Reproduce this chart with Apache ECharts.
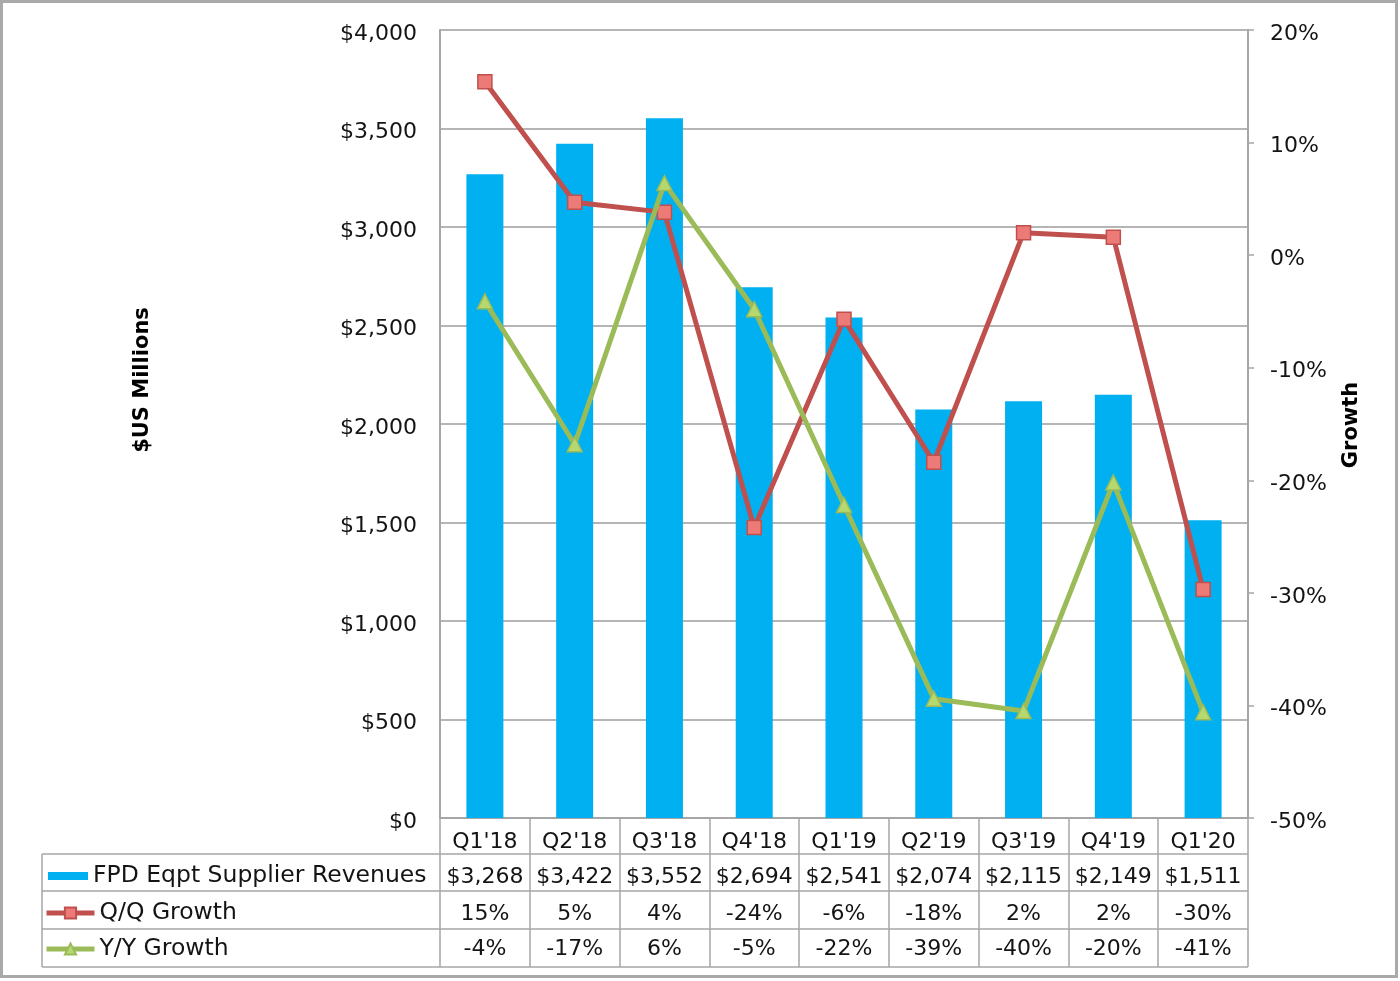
<!DOCTYPE html>
<html>
<head>
<meta charset="utf-8">
<script src="https://cdn.jsdelivr.net/npm/echarts@6/dist/echarts.min.js"></script>
<style>
html,body{margin:0;padding:0;background:#fff;}
#chart{width:1400px;height:981px;}
</style>
</head>
<body>
<div id="chart"></div>
<script>
// ---- data ----
const categories = ["Q1'18", "Q2'18", "Q3'18", "Q4'18", "Q1'19", "Q2'19", "Q3'19", "Q4'19", "Q1'20"];
const revenues = [3268, 3422, 3552, 2694, 2541, 2074, 2115, 2149, 1511];
const qqGrowth = [15.4, 4.7, 3.8, -24.2, -5.7, -18.4, 2.0, 1.6, -29.7];
const yyGrowth = [-4.1, -16.8, 6.4, -4.8, -22.2, -39.4, -40.5, -20.2, -40.6];
const revenueLabels = ['$3,268', '$3,422', '$3,552', '$2,694', '$2,541', '$2,074', '$2,115', '$2,149', '$1,511'];
const qqLabels = ['15%', '5%', '4%', '-24%', '-6%', '-18%', '2%', '2%', '-30%'];
const yyLabels = ['-4%', '-17%', '6%', '-5%', '-22%', '-39%', '-40%', '-20%', '-41%'];
const seriesNames = ['FPD Eqpt Supplier Revenues', 'Q/Q Growth', 'Y/Y Growth'];

// ---- layout ----
const FONT = 'DejaVu Sans';
const GRID = {left: 440, top: 30, width: 808, height: 788};
const TABLE_LEFT = 42;
const ROW_LINES = [854, 891, 929, 967];
const GRAY = '#A6A6A6';
const txt = {fontFamily: FONT, fontSize: 22, lineHeight: 22, color: '#141414'};
const shiftedRich = {t: {fontFamily: FONT, fontSize: 22, lineHeight: 22, color: '#141414', padding: [8, 0, 0, 0]}};

const chart = echarts.init(document.getElementById('chart'), null, {renderer: 'canvas'});

function rowAxis(offset, labels) {
  return {
    type: 'category', data: categories, position: 'bottom', offset: offset,
    axisLine: {show: false}, axisTick: {show: false}, splitLine: {show: false},
    axisLabel: Object.assign({interval: 0, margin: 11, formatter: (v, i) => labels[i]}, txt)
  };
}

const graphics = [
  {type: 'rect', shape: {x: 1.5, y: 1.5, width: 1395, height: 975}, style: {fill: 'none', stroke: '#A9A9A9', lineWidth: 3}, silent: true, z: -10},
  {type: 'line', shape: {x1: TABLE_LEFT, y1: ROW_LINES[0], x2: TABLE_LEFT, y2: ROW_LINES[3]}, style: {stroke: GRAY, lineWidth: 1.5}, silent: true},
  {type: 'text', x: 143, y: 380, rotation: Math.PI / 2,
    style: {text: '$US Millions', fontFamily: FONT, fontSize: 21, fontWeight: 'bold', fill: '#000', align: 'center', verticalAlign: 'middle'}},
  {type: 'text', x: 1352, y: 425, rotation: Math.PI / 2,
    style: {text: 'Growth', fontFamily: FONT, fontSize: 21, fontWeight: 'bold', fill: '#000', align: 'center', verticalAlign: 'middle'}}
];
ROW_LINES.forEach(y => graphics.push({
  type: 'line', shape: {x1: TABLE_LEFT, y1: y, x2: GRID.left + GRID.width, y2: y},
  style: {stroke: GRAY, lineWidth: 1.5}, silent: true
}));

const legendBase = {
  orient: 'vertical', selectedMode: false, padding: 0,
  textStyle: Object.assign({}, txt, {fontSize: 23.5, lineHeight: 24})
};

const option = {
  animation: false,
  backgroundColor: '#fff',
  grid: {left: GRID.left, top: GRID.top, width: GRID.width, height: GRID.height, containLabel: false},
  legend: [
    Object.assign({}, legendBase, {data: [{name: seriesNames[0], icon: 'rect'}], left: 48, top: 864, itemWidth: 40, itemHeight: 8}),
    Object.assign({}, legendBase, {data: [seriesNames[1]], left: 44, top: 901, itemWidth: 48, itemHeight: 14, lineStyle: {width: 5}}),
    Object.assign({}, legendBase, {data: [seriesNames[2]], left: 44, top: 937, itemWidth: 48, itemHeight: 14, lineStyle: {width: 5}})
  ],
  xAxis: [
    {
      type: 'category', data: categories, position: 'bottom',
      axisLine: {lineStyle: {color: GRAY, width: 2}},
      axisTick: {show: true, interval: 0, length: ROW_LINES[3] - (GRID.top + GRID.height), lineStyle: {color: GRAY, width: 1.5}},
      splitLine: {show: false},
      axisLabel: Object.assign({interval: 0, margin: 13}, txt)
    },
    rowAxis(37, revenueLabels),
    rowAxis(74, qqLabels),
    rowAxis(109, yyLabels)
  ],
  yAxis: [
    {
      type: 'value', min: 0, max: 4000, interval: 500,
      axisLine: {show: true, lineStyle: {color: GRAY, width: 2}},
      axisTick: {show: false},
      splitLine: {show: true, lineStyle: {color: '#B5B5B5', width: 2}},
      axisLabel: {margin: 23, rich: shiftedRich, formatter: v => '{t|$' + v.toLocaleString('en-US') + '}'}
    },
    {
      type: 'value', position: 'right', min: -50, max: 20, interval: 10,
      axisLine: {show: true, lineStyle: {color: GRAY, width: 2}},
      axisTick: {show: true, length: 6, lineStyle: {color: GRAY, width: 1.5}},
      splitLine: {show: false},
      axisLabel: {margin: 22, rich: shiftedRich, formatter: v => '{t|' + v + '%}'}
    }
  ],
  series: [
    {
      name: seriesNames[0], type: 'bar', data: revenues, xAxisIndex: 0, yAxisIndex: 0,
      barWidth: 37, itemStyle: {color: '#00B0F0'}, z: 2
    },
    {
      name: seriesNames[1], type: 'line', data: qqGrowth, xAxisIndex: 0, yAxisIndex: 1,
      symbol: 'rect', symbolSize: 14,
      lineStyle: {color: '#C0504D', width: 5},
      itemStyle: {color: '#EC7A77', borderColor: '#C0504D', borderWidth: 1.5},
      z: 3
    },
    {
      name: seriesNames[2], type: 'line', data: yyGrowth, xAxisIndex: 0, yAxisIndex: 1,
      symbol: 'triangle', symbolSize: 15,
      lineStyle: {color: '#9BBB59', width: 5},
      itemStyle: {color: '#B7D86E', borderColor: '#9BBB59', borderWidth: 1.5},
      z: 4
    }
  ],
  graphic: graphics
};
chart.setOption(option);
</script>
</body>
</html>
